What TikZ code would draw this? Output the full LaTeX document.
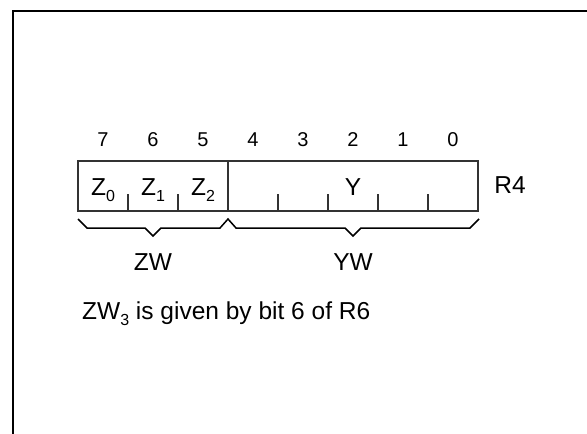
\documentclass[tikz,border=0pt]{standalone}
\usepackage{fontspec}
\setmainfont{Liberation Sans}
\newcommand{\lowsub}[1]{\raisebox{-6pt}{\fontsize{16}{16}\selectfont #1}}
\begin{document}
\begin{tikzpicture}[x=1pt,y=-1pt,
  big/.style={font=\fontsize{24.5}{28}\selectfont, inner sep=0pt, anchor=base},
  small/.style={font=\fontsize{20}{24}\selectfont, inner sep=0pt, anchor=base},
  boxline/.style={draw=black!80, line width=1.2pt},
  brace/.style={draw=black, line width=1.5pt, line join=miter}]
\useasboundingbox (0,0) rectangle (587,434);
% frame
\draw[line width=2pt] (12.5,434) -- (12.5,11) -- (587,11);
% register box
\coordinate (bl) at (78,211);
\coordinate (tr) at (478,161);
\draw[boxline] (bl) rectangle (tr);
\draw[boxline] (228,161) -- (228,211);
\foreach \x in {128,178,278,328,378,428} \draw[boxline] (\x,194) -- (\x,211);
% bit numbers
\foreach \b [count=\i from 0] in {7,6,5,4,3,2,1,0}
  \node[small] (b\b) at ({103+50*\i},146) {\b};
% field labels
\node[big] (z0) at (103,195) {Z\lowsub{0}};
\node[big] (z1) at (153,195) {Z\lowsub{1}};
\node[big] (z2) at (203,195) {Z\lowsub{2}};
\node[big] (y) at (353,195) {Y};
\node[big] (r4) at (510,193) {R4};
% braces
\draw[brace] (78,219) -- (87,228) -- (145,228) -- (153,236) -- (161,228) -- (220,228) -- (228,219)
  -- (236,228) -- (345,228) -- (353,236) -- (361,228) -- (470,228) -- (479,219);
\node[big] (zw) at (153,270) {ZW};
\node[big] (yw) at (353,270) {YW};
\node[big, anchor=base west] (note) at (82,319) {ZW\lowsub{3} is given by bit 6 of R6};
\end{tikzpicture}
\end{document}
